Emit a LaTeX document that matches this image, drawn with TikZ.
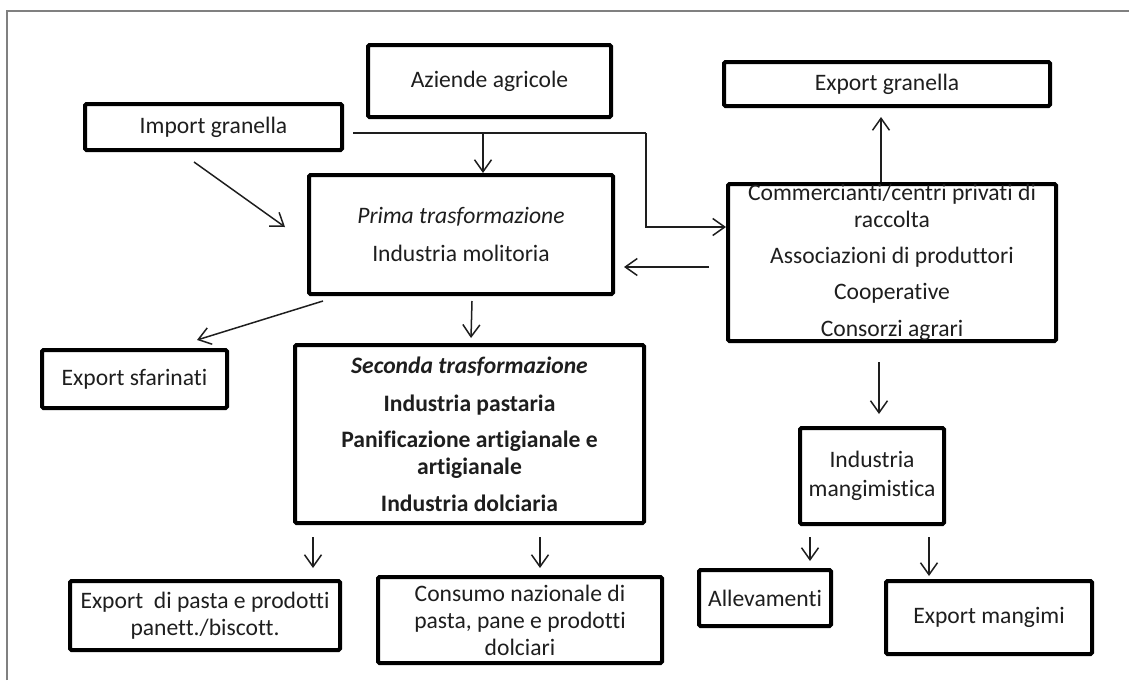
\documentclass[tikz,border=0pt]{standalone}
\usepackage{fontspec}
\setmainfont{Carlito}[Ligatures={NoCommon}]
\usetikzlibrary{arrows.meta,calc}
\definecolor{framegray}{RGB}{128,128,128}
\definecolor{ink}{RGB}{30,30,30}
\begin{document}
\begin{tikzpicture}[x=1pt,y=-1pt,
  box/.style={draw=black, line width=4pt, rounded corners=1.5pt, inner sep=0pt, align=center, text=ink,
    font=\fontsize{23.6}{27}\selectfont},
  wire/.style={line width=1.5pt, draw=ink},
  conn/.style={wire, -{Straight Barb[length=12pt,width=17pt,line width=1.5pt]}},
  ]
\useasboundingbox (0,0) rectangle (1129,680);
\draw[line width=2pt, framegray] (7,680) -- (7,11) -- (1129,11);

% boxes
\node[box, minimum width=243pt, minimum height=72pt] (aziende) at (489.5,81) {Aziende agricole};
\node[box, minimum width=257pt, minimum height=46pt] (imp) at (213.5,127) {Import granella};
\node[box, minimum width=326pt, minimum height=44pt] (expgran) at (887,84) {Export granella};
\node[box, minimum width=304pt, minimum height=119pt] (prima) at (461,234.5)
  {\itshape Prima trasformazione\\[11pt] Industria molitoria};
\node[box, minimum width=328pt, minimum height=157pt] (comm) at (892,262.5)
  {Commercianti/centri privati di\\ raccolta\\[9pt] Associazioni di produttori\\[9pt] Cooperative\\[10pt] Consorzi agrari};
\node[box, minimum width=185pt, minimum height=58pt] (sfar) at (134.5,379) {Export sfarinati};
\node[box, minimum width=349pt, minimum height=178pt] (seconda) at (469.5,434)
  {\bfseries\itshape Seconda trasformazione\\[11pt] \bfseries Industria pastaria\\[9pt]
   \bfseries Panificazione artigianale e\\ \bfseries artigianale\\[10pt] \bfseries Industria dolciaria};
\node[box, minimum width=144pt, minimum height=96pt] (mang) at (872,476) {Industria\\[2pt] mangimistica};
\node[box, minimum width=132pt, minimum height=56pt] (alle) at (765,598) {Allevamenti};
\node[box, minimum width=206pt, minimum height=73pt] (expmang) at (989,617.5) {Export mangimi};
\node[box, minimum width=270pt, minimum height=69pt] (exppasta) at (205,615.5)
  {Export\ \ di pasta e prodotti\\ panett./biscott.};
\node[box, minimum width=284pt, minimum height=86pt] (consumo) at (520,620)
  {Consumo nazionale di\\ pasta, pane e prodotti\\ dolciari};

% connectors
\coordinate (jA) at (646,133);
\coordinate (jB) at (483,133);
\draw[wire] ($(imp.east)+(9,6)$) -- (jA);
\draw[conn] (jA) |- ($(comm.west)+(0,-35.5)$);
\draw[conn] (jB) -- (jB |- prima.north);
\draw[conn] ($(imp.south)+(-19.5,10)$) -- ($(prima.west)+(-22,-7.5)$);
\draw[conn] ($(comm.north)+(-11,0)$) -- ($(expgran.south)+(-6,9)$);
\draw[conn] ($(comm.west)+(-17,4.5)$) -- ($(prima.east)+(9,32.5)$);
\draw[conn] ($(prima.south)+(11,5)$) -- ($(seconda.north)+(1.5,-5)$);
\draw[conn] ($(prima.south)+(-138,5)$) -- ($(sfar.north)+(62.5,-8)$);
\draw[conn] ($(comm.south)+(-13,19)$) -- ($(mang.north)+(7,-12)$);
\draw[conn] ($(seconda.south)+(-156.5,12)$) -- ($(exppasta.north)+(108,-11)$);
\draw[conn] ($(seconda.south)+(70.5,12)$) -- ($(consumo.north)+(20,-7)$);
\draw[conn] ($(mang.south)+(-62,11)$) -- ($(alle.north)+(45,-7)$);
\draw[conn] ($(mang.south)+(57,11)$) -- ($(expmang.north)+(-60,-3)$);
\end{tikzpicture}
\end{document}
